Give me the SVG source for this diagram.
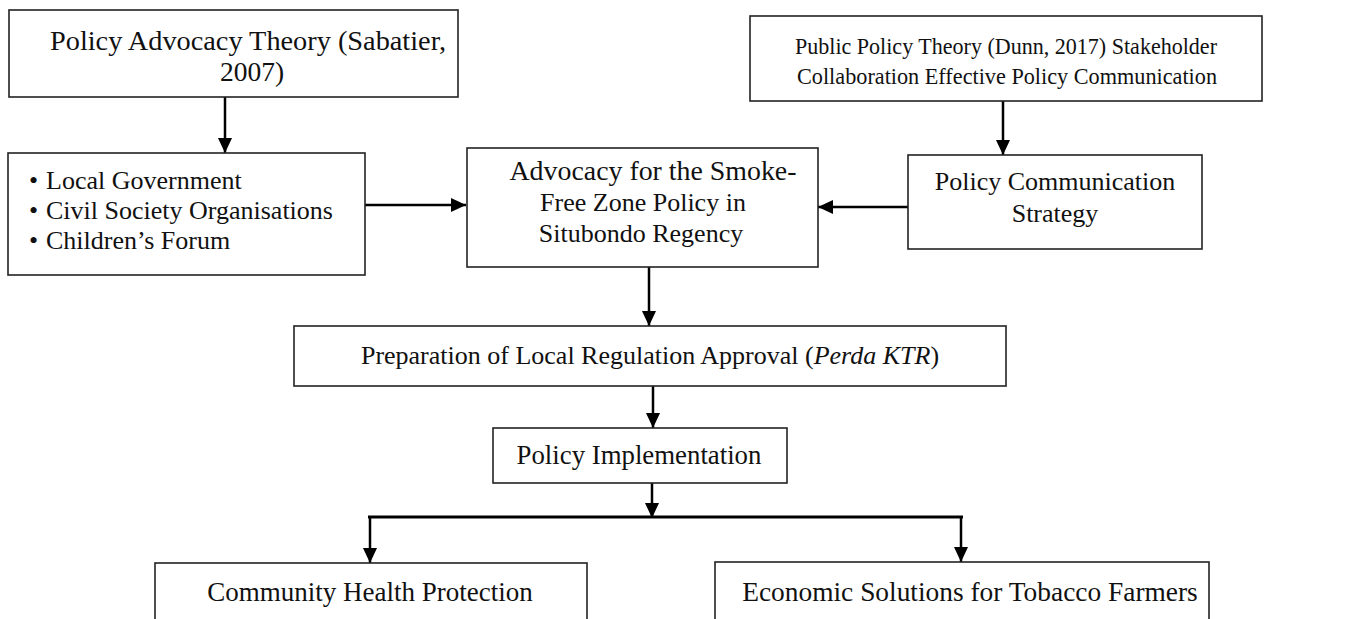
<svg xmlns="http://www.w3.org/2000/svg" width="1355" height="619" viewBox="0 0 1355 619">
<defs>
<style>
.box{fill:#fff;stroke:#222;stroke-width:1.6}
.t{font-family:"Liberation Serif","Times New Roman",serif;font-size:26px;fill:#111;text-anchor:middle}
.tl{font-family:"Liberation Serif","Times New Roman",serif;font-size:26px;fill:#111}
.c{stroke:#000;stroke-width:2.5;fill:none}
</style>
<marker id="ah" viewBox="0 0 15 14" refX="15" refY="7" markerWidth="15" markerHeight="14" markerUnits="userSpaceOnUse" orient="auto">
<path d="M0,0 L15,7 L0,14 Z" fill="#000"/>
</marker>
</defs>
<rect width="1355" height="619" fill="#fff"/>
<g id="connectors">
<line class="c" x1="225" y1="97" x2="225" y2="153" marker-end="url(#ah)"/>
<line class="c" x1="1003" y1="101" x2="1003" y2="155" marker-end="url(#ah)"/>
<line class="c" x1="365" y1="205" x2="466" y2="205" marker-end="url(#ah)"/>
<line class="c" x1="908" y1="207" x2="818" y2="207" marker-end="url(#ah)"/>
<line class="c" x1="649" y1="267" x2="649" y2="326" marker-end="url(#ah)"/>
<line class="c" x1="653" y1="386" x2="653" y2="428" marker-end="url(#ah)"/>
<line class="c" x1="652" y1="483" x2="652" y2="518" marker-end="url(#ah)"/>
<line x1="368" y1="517" x2="963" y2="517" stroke="#000" stroke-width="3.2"/>
<line class="c" x1="370" y1="517" x2="370" y2="563" marker-end="url(#ah)"/>
<line class="c" x1="961" y1="517" x2="961" y2="562" marker-end="url(#ah)"/>
</g>
<g id="n1">
<rect class="box" x="9" y="10" width="449" height="87"/>
<text class="t" x="248" y="50" style="font-size:27.5px" textLength="396" lengthAdjust="spacingAndGlyphs">Policy Advocacy Theory (Sabatier,</text>
<text class="t" x="252" y="81" style="font-size:27.5px">2007)</text>
</g>
<g id="n2">
<rect class="box" x="750" y="16" width="512" height="85"/>
<text class="t" x="1006" y="54" style="font-size:24px" textLength="422" lengthAdjust="spacingAndGlyphs">Public Policy Theory (Dunn, 2017) Stakeholder</text>
<text class="t" x="1007" y="84" style="font-size:24px" textLength="420" lengthAdjust="spacingAndGlyphs">Collaboration Effective Policy Communication</text>
</g>
<g id="n3">
<rect class="box" x="8" y="153" width="357" height="122"/>
<text class="tl" x="29" y="189">•</text>
<text class="tl" x="29" y="219">•</text>
<text class="tl" x="29" y="249">•</text>
<text class="tl" x="46" y="189">Local Government</text>
<text class="tl" x="46" y="219">Civil Society Organisations</text>
<text class="tl" x="46" y="249">Children’s Forum</text>
</g>
<g id="n4">
<rect class="box" x="467" y="148" width="351" height="119"/>
<text class="t" x="653" y="180" style="font-size:27px" textLength="287" lengthAdjust="spacingAndGlyphs">Advocacy for the Smoke-</text>
<text class="t" x="643" y="211">Free Zone Policy in</text>
<text class="t" x="641" y="242">Situbondo Regency</text>
</g>
<g id="n5">
<rect class="box" x="908" y="155" width="294" height="94"/>
<text class="t" x="1055" y="190">Policy Communication</text>
<text class="t" x="1055" y="222">Strategy</text>
</g>
<g id="n6">
<rect class="box" x="294" y="326" width="712" height="60"/>
<text class="t" x="650" y="364">Preparation of Local Regulation Approval (<tspan font-style="italic">Perda KTR</tspan>)</text>
</g>
<g id="n7">
<rect class="box" x="493" y="428" width="294" height="55"/>
<text class="t" x="639" y="464" style="font-size:26.8px">Policy Implementation</text>
</g>
<g id="n8">
<rect class="box" x="155" y="563" width="432" height="70"/>
<text class="t" x="370" y="601" style="font-size:27px">Community Health Protection</text>
</g>
<g id="n9">
<rect class="box" x="715" y="562" width="494" height="70"/>
<text class="t" x="970" y="601" style="font-size:27.4px">Economic Solutions for Tobacco Farmers</text>
</g>
</svg>
